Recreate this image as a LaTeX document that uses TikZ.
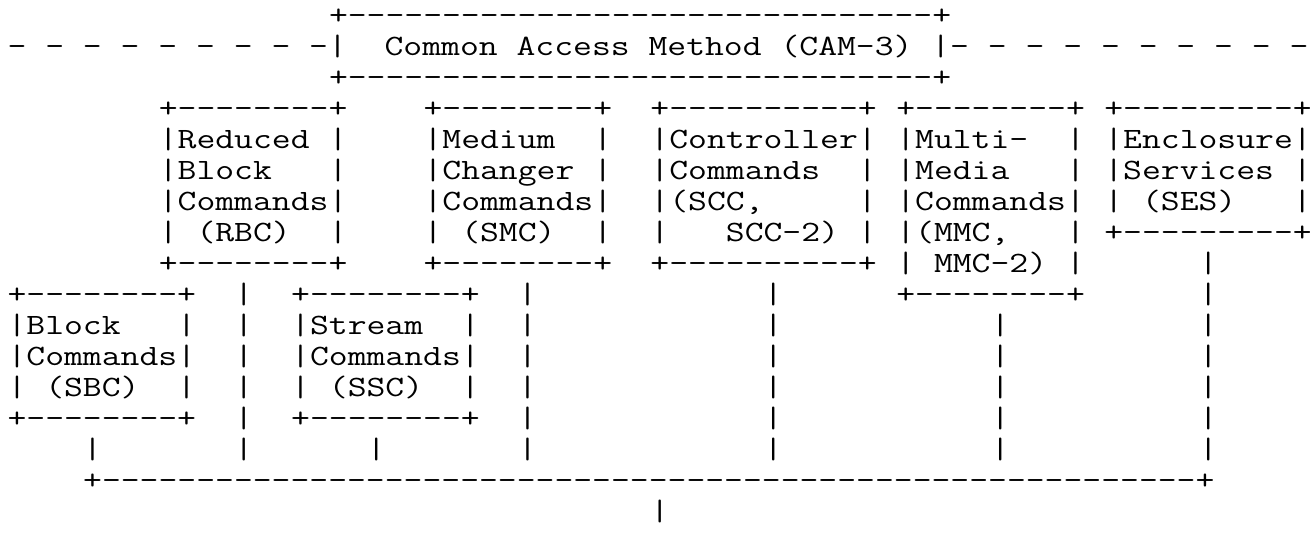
\documentclass[tikz,border=0pt]{standalone}
\usepackage{fontspec}
\usepackage{graphicx}
\tikzset{seg/.style={anchor=base west, inner sep=0pt, outer sep=0pt,
  font=\ttfamily\fontsize{14.75pt}{14.75pt}\selectfont, text=black}}
\newcommand\seg[3]{\node[seg] (s#1x#2) at ({7.545+18.91*#2},{24+31*(#1-1)}) {\scalebox{1.241}[1]{#3}};}
\begin{document}
\begin{tikzpicture}[x=0.5pt,y=-0.5pt]
\useasboundingbox (0,0) rectangle (1310,541);
% row 1-3: CAM box
\seg{1}{17}{+-------------------------------+}
\seg{2}{0}{-~-~-~-~-~-~-~-~-|~~Common~Access~Method~(CAM-3)~|-~-~-~-~-~-~-~-~-~-}
\seg{3}{17}{+-------------------------------+}
% row 4
\seg{4}{8}{+--------+}
\seg{4}{22}{+--------+}
\seg{4}{34}{+----------+}
\seg{4}{47}{+--------+}
\seg{4}{58}{+---------+}
% row 5
\seg{5}{8}{|Reduced~|}
\seg{5}{22}{|Medium~~|}
\seg{5}{34}{|Controller|}
\seg{5}{47}{|Multi-~~|}
\seg{5}{58}{|Enclosure|}
% row 6
\seg{6}{8}{|Block~~~|}
\seg{6}{22}{|Changer~|}
\seg{6}{34}{|Commands~~|}
\seg{6}{47}{|Media~~~|}
\seg{6}{58}{|Services~|}
% row 7
\seg{7}{8}{|Commands|}
\seg{7}{22}{|Commands|}
\seg{7}{34}{|(SCC,~~~~~|}
\seg{7}{47}{|Commands|}
\seg{7}{58}{|~(SES)~~~|}
% row 8
\seg{8}{8}{|~(RBC)~~|}
\seg{8}{22}{|~(SMC)~~|}
\seg{8}{34}{|~~~SCC-2)~|}
\seg{8}{47}{|(MMC,~~~|}
\seg{8}{58}{+---------+}
% row 9
\seg{9}{8}{+--------+}
\seg{9}{22}{+--------+}
\seg{9}{34}{+----------+}
\seg{9}{47}{|~MMC-2)~|}
\seg{9}{63}{|}
% row 10
\seg{10}{0}{+--------+}
\seg{10}{12}{|}
\seg{10}{15}{+--------+}
\seg{10}{27}{|}
\seg{10}{40}{|}
\seg{10}{47}{+--------+}
\seg{10}{63}{|}
% row 11
\seg{11}{0}{|Block~~~|}
\seg{11}{12}{|}
\seg{11}{15}{|Stream~~|}
\seg{11}{27}{|}
\seg{11}{40}{|}
\seg{11}{52}{|}
\seg{11}{63}{|}
% row 12
\seg{12}{0}{|Commands|}
\seg{12}{12}{|}
\seg{12}{15}{|Commands|}
\seg{12}{27}{|}
\seg{12}{40}{|}
\seg{12}{52}{|}
\seg{12}{63}{|}
% row 13
\seg{13}{0}{|~(SBC)~~|}
\seg{13}{12}{|}
\seg{13}{15}{|~(SSC)~~|}
\seg{13}{27}{|}
\seg{13}{40}{|}
\seg{13}{52}{|}
\seg{13}{63}{|}
% row 14
\seg{14}{0}{+--------+}
\seg{14}{12}{|}
\seg{14}{15}{+--------+}
\seg{14}{27}{|}
\seg{14}{40}{|}
\seg{14}{52}{|}
\seg{14}{63}{|}
% row 15
\seg{15}{4}{|}
\seg{15}{12}{|}
\seg{15}{19}{|}
\seg{15}{27}{|}
\seg{15}{40}{|}
\seg{15}{52}{|}
\seg{15}{63}{|}
% row 16
\seg{16}{4}{+----------------------------------------------------------+}
% row 17
\seg{17}{34}{|}
\end{tikzpicture}
\end{document}
